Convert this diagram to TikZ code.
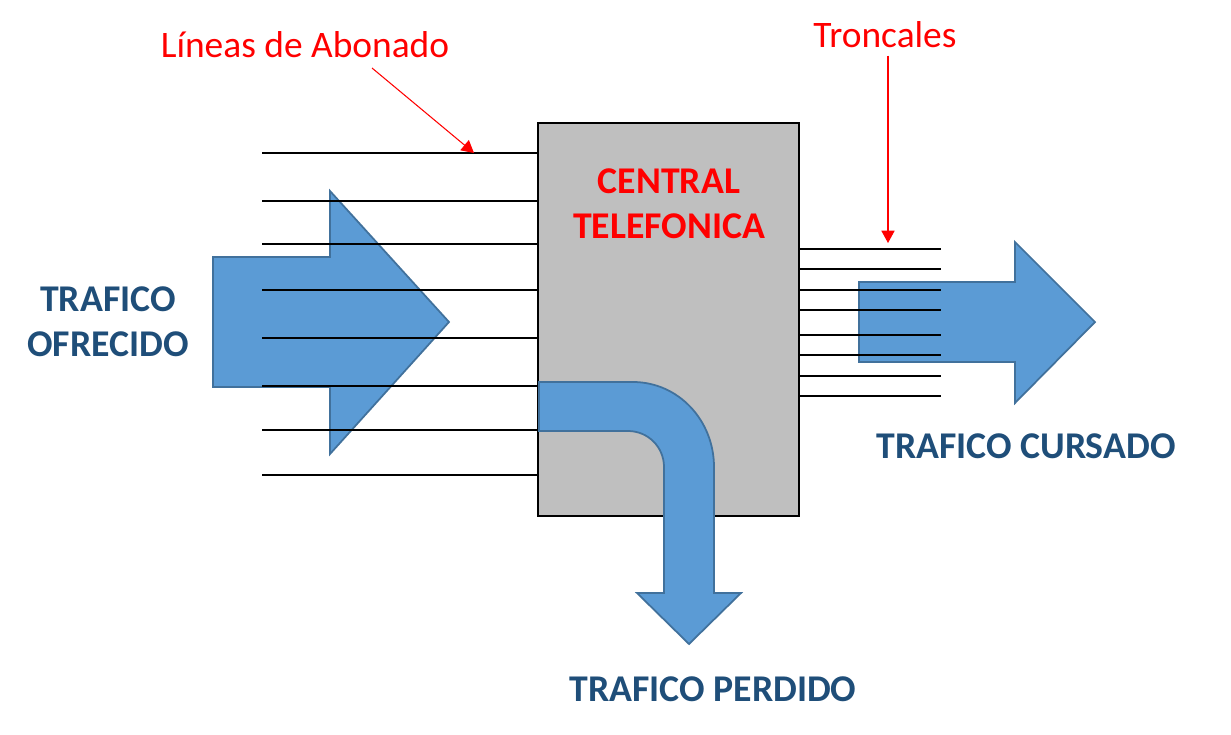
\documentclass[tikz,border=0pt]{standalone}
\usepackage{fontspec}
\setmainfont{Carlito}
\usetikzlibrary{arrows.meta}
\definecolor{azul}{HTML}{5B9BD5}
\definecolor{borde}{HTML}{41719C}
\definecolor{texto}{HTML}{1F4E79}
\definecolor{gris}{HTML}{BFBFBF}
\begin{document}
\begin{tikzpicture}[x=0.02cm,y=-0.02cm,
        flecha/.style={draw=borde,fill=azul,line width=1pt,line join=miter},
        linea/.style={black,line width=0.6pt},
        rojo/.style={red,line width=0.6pt,-{Triangle[length=7pt,width=7.5pt]}},
        etiq/.style={text=red,font=\fontsize{21.3}{26}\selectfont,inner sep=0pt},
        titulo/.style={font=\bfseries\fontsize{21.5}{25.6}\selectfont,align=center,inner sep=0pt}]
\useasboundingbox (0,0) rectangle (1231,734);

\node[draw=black,fill=gris,line width=1.5pt,minimum width=5.22cm,minimum height=7.86cm,
    inner sep=0pt] (central) at (668.5,319.5) {};
\node[titulo,text=red] (ct) at (669,204) {CENTRAL\\TELEFONICA};

\draw[flecha] (539,382) -- (633,382) .. controls (678,382) and (714,420) .. (714,467)
    -- (714,593) -- (741,593) -- (689,644) -- (637,593) -- (664,593) -- (664,467)
    .. controls (664,447) and (648,431) .. (628,431) -- (539,431) -- cycle;
\draw[flecha] (213,257) -- (330,257) -- (330,191) -- (449,322) -- (330,454)
    -- (330,387) -- (213,387) -- cycle;
\draw[flecha] (859,282) -- (1015,282) -- (1015,242) -- (1095,322) -- (1015,403)
    -- (1015,362) -- (859,362) -- cycle;

\foreach \y in {153,201,244,290,338,386,430,475}
    \draw[linea] (262,\y) -- (central.west |- 0,\y);
\foreach \y in {249,269,290,310,335,355,376,396}
    \draw[linea] (central.east |- 0,\y) -- (941,\y);

\node[etiq,anchor=base] (abonado) at (305,57) {Líneas de Abonado};
\node[etiq,anchor=base] (troncales) at (885,47) {Troncales};
\coordinate (lin) at (474,153);
\coordinate (tro) at (888,243);
\draw[rojo] (372,68) -- (lin);
\draw[rojo] (troncales.south -| tro) ++(0,8) -- (tro);

\node[titulo,text=texto] (ofrecido) at (108,322) {TRAFICO\\OFRECIDO};
\node[titulo,text=texto,anchor=base] (cursado) at (1026,458) {TRAFICO CURSADO};
\node[titulo,text=texto,anchor=base] (perdido) at (713,701) {TRAFICO PERDIDO};
\end{tikzpicture}
\end{document}
